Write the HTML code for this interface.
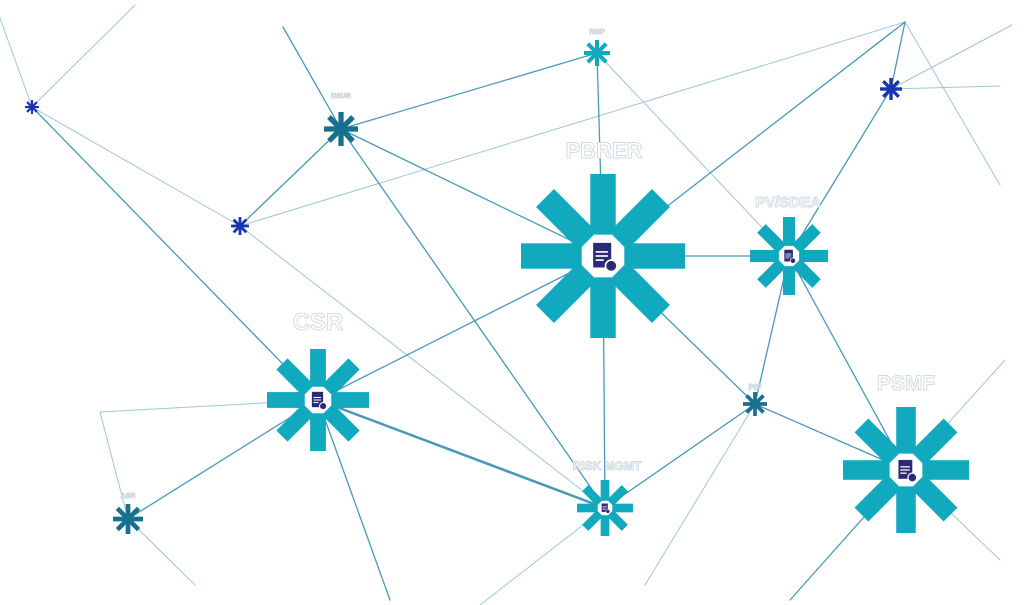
<!DOCTYPE html>
<html><head><meta charset="utf-8"><style>
html,body{margin:0;padding:0;background:#fff;width:1024px;height:605px;overflow:hidden}
svg{display:block}
.l{fill:#fff;stroke:#d3dbe2;stroke-width:1;font-family:"Liberation Sans",sans-serif;font-weight:bold;text-anchor:middle}
</style></head><body>
<svg width="1024" height="605" viewBox="0 0 1024 605" xmlns="http://www.w3.org/2000/svg">
<defs>
<g id="ast">
<rect x="-1" y="-0.155" width="2" height="0.31"/>
<rect x="-1" y="-0.155" width="2" height="0.31" transform="rotate(45)"/>
<rect x="-1" y="-0.155" width="2" height="0.31" transform="rotate(90)"/>
<rect x="-1" y="-0.155" width="2" height="0.31" transform="rotate(135)"/>
</g>
<g id="oct"><polygon points="-0.11,-0.26 0.11,-0.26 0.26,-0.11 0.26,0.11 0.11,0.26 -0.11,0.26 -0.26,0.11 -0.26,-0.11" fill="#fff"/>
<rect x="-0.12" y="-0.16" width="0.22" height="0.3" fill="#2a2a78"/>
<rect x="-0.09" y="-0.06" width="0.15" height="0.02" fill="#fff"/>
<rect x="-0.09" y="-0.01" width="0.15" height="0.02" fill="#fff"/>
<rect x="-0.09" y="0.04" width="0.1" height="0.02" fill="#fff"/>
<circle cx="0.1" cy="0.12" r="0.07" fill="#2a2a78" stroke="#fff" stroke-width="0.02"/></g>
</defs>
<g stroke-linecap="round" fill="none">
<g stroke="#9fc6d8" stroke-width="1">
<line x1="0" y1="18" x2="32" y2="107"/>
<line x1="135" y1="5" x2="32" y2="107"/>
<line x1="32" y1="107" x2="240" y2="226"/>
<line x1="240" y1="226" x2="905" y2="22"/>
<line x1="240" y1="226" x2="605" y2="508"/>
<line x1="597" y1="53" x2="789" y2="256"/>
<line x1="905" y1="22" x2="1000" y2="185"/>
<line x1="891" y1="89" x2="1000" y2="86"/>
<line x1="891" y1="89" x2="1012" y2="25"/>
<line x1="100" y1="412" x2="128" y2="519"/>
<line x1="128" y1="519" x2="195" y2="585"/>
<line x1="318" y1="400" x2="100" y2="412"/>
<line x1="906" y1="470" x2="1005" y2="360"/>
<line x1="906" y1="470" x2="1000" y2="560"/>
<line x1="605" y1="508" x2="480" y2="605"/>
<line x1="755" y1="404" x2="645" y2="585"/>
</g>
<g stroke="#4a98b8" stroke-width="1.3">
<line x1="32" y1="107" x2="318" y2="400"/>
<line x1="240" y1="226" x2="341" y2="129"/>
<line x1="283" y1="27" x2="341" y2="129"/>
<line x1="341" y1="129" x2="605" y2="508"/>
<line x1="341" y1="129" x2="597" y2="53"/>
<line x1="341" y1="129" x2="603" y2="256"/>
<line x1="597" y1="53" x2="603" y2="256"/>
<line x1="905" y1="22" x2="603" y2="256"/>
<line x1="905" y1="22" x2="891" y2="89"/>
<line x1="891" y1="89" x2="789" y2="256"/>
<line x1="603" y1="256" x2="789" y2="256"/>
<line x1="603" y1="256" x2="318" y2="400"/>
<line x1="603" y1="256" x2="605" y2="508"/>
<line x1="603" y1="256" x2="755" y2="404"/>
<line x1="789" y1="256" x2="755" y2="404"/>
<line x1="789" y1="256" x2="906" y2="470"/>
<line x1="755" y1="404" x2="906" y2="470"/>
<line x1="755" y1="404" x2="605" y2="508"/>
<line x1="318" y1="400" x2="605" y2="508" stroke-width="2.5"/>
<line x1="318" y1="400" x2="128" y2="519"/>
<line x1="318" y1="400" x2="390" y2="600"/>
<line x1="906" y1="470" x2="790" y2="600"/>
</g>
</g>
<g fill="#11a9be">
<use href="#ast" transform="translate(603,256) scale(82)"/>
<use href="#ast" transform="translate(789,256) scale(39)"/>
<use href="#ast" transform="translate(318,400) scale(51)"/>
<use href="#ast" transform="translate(906,470) scale(63)"/>
<use href="#ast" transform="translate(605,508) scale(28)"/>
<use href="#ast" transform="translate(597,53) scale(13)"/>
</g>
<g fill="#16708e">
<use href="#ast" transform="translate(341,129) scale(17)"/>
<use href="#ast" transform="translate(755,404) scale(12)"/>
<use href="#ast" transform="translate(128,519) scale(15)"/>
</g>
<g fill="#1a35b0">
<use href="#ast" transform="translate(240,226) scale(9)"/>
<use href="#ast" transform="translate(32,107) scale(7)"/>
<use href="#ast" transform="translate(891,89) scale(11)"/>
</g>
<use href="#oct" transform="translate(603,256) scale(82)"/>
<use href="#oct" transform="translate(789,256) scale(39)"/>
<use href="#oct" transform="translate(318,400) scale(51)"/>
<use href="#oct" transform="translate(906,470) scale(63)"/>
<use href="#oct" transform="translate(605,508) scale(28)"/>
<text class="l" x="604" y="158" font-size="22">PBRER</text>
<text class="l" x="788" y="207" font-size="15">PV/SDEA</text>
<text class="l" x="318" y="330" font-size="24">CSR</text>
<text class="l" x="906" y="390" font-size="21">PSMF</text>
<text class="l" x="607" y="470" font-size="12">RISK MGMT</text>
<text class="l" x="755" y="390" font-size="8">PIP</text>
<text class="l" x="341" y="98" font-size="7">DSUR</text>
<text class="l" x="597" y="34" font-size="7">RMP</text>
<text class="l" x="128" y="498" font-size="7">ASR</text>
</svg>
</body></html>
